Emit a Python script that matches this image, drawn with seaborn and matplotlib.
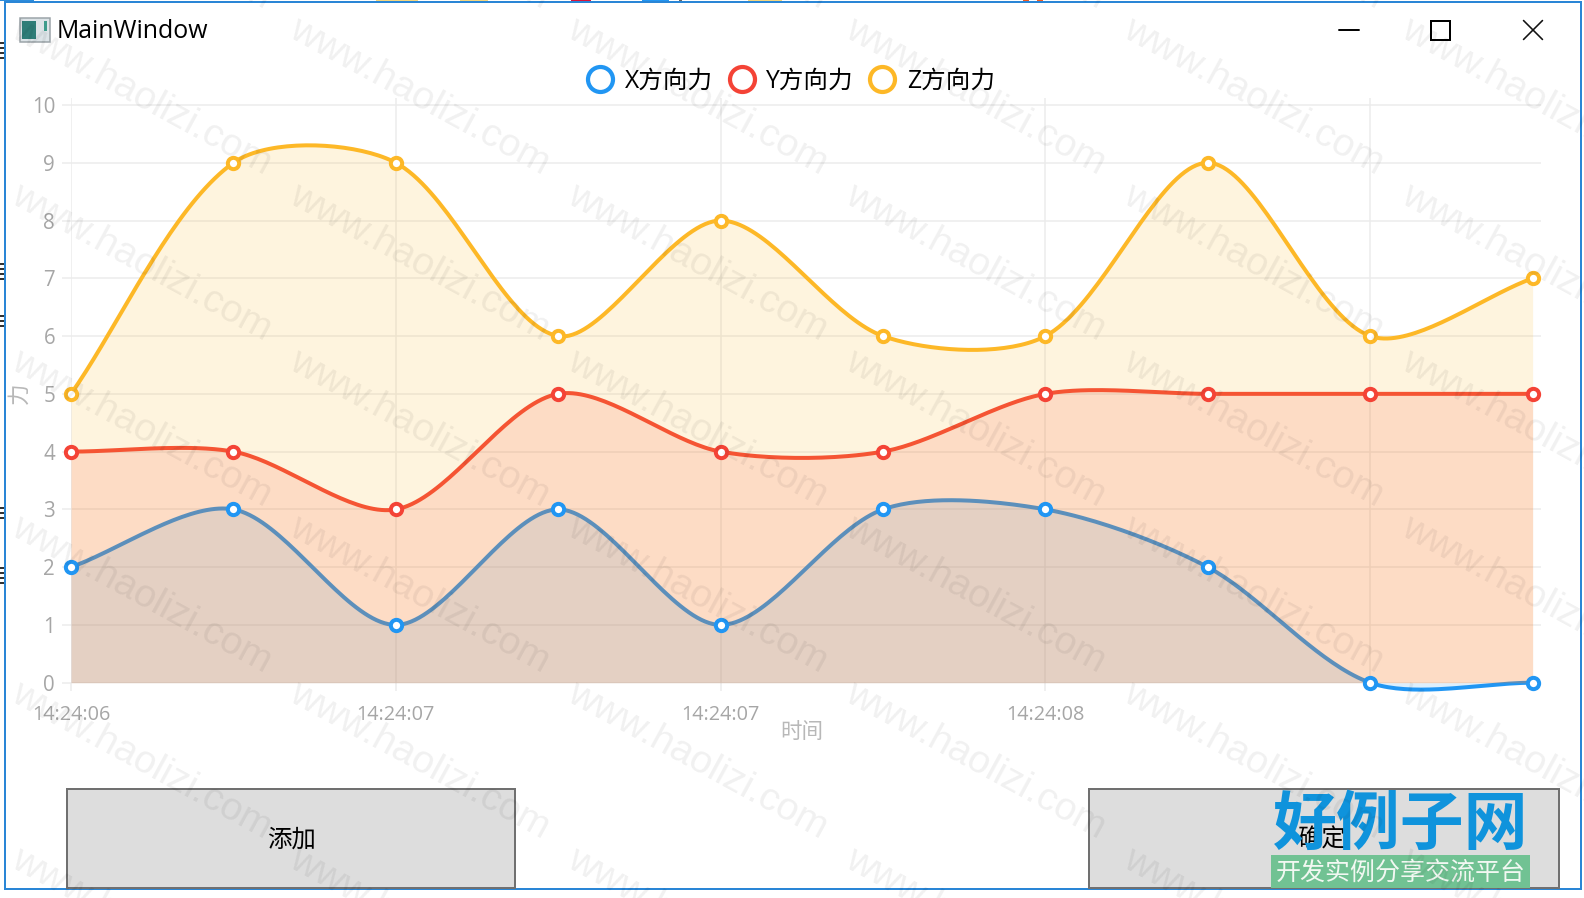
import numpy as np
import matplotlib
matplotlib.use("Agg")
import matplotlib.pyplot as plt
from matplotlib.lines import Line2D
from matplotlib.patches import Rectangle
import seaborn as sns

# Force readings per sample
sample_index = list(range(10))
force_x = [2, 3, 1, 3, 1, 3, 3, 2, 0, 0]
force_y = [4, 4, 3, 5, 4, 4, 5, 5, 5, 5]
force_z = [5, 9, 9, 6, 8, 6, 6, 9, 6, 7]
series_names = ["X方向力", "Y方向力", "Z方向力"]
series_colors = ["#2196F3", "#F44336", "#FDB827"]

x_tick_positions = [0, 2, 4, 6, 8]
x_tick_labels = ["14:24:06", "14:24:07", "14:24:07", "14:24:08", ""]
y_tick_positions = list(range(11))

WIDTH, HEIGHT = 1584, 898
PX = 72 / 100  # points per pixel at dpi 100
FONT = ["Open Sans", "Noto Sans CJK SC", "DejaVu Sans"]

sns.set_theme(style="white")
plt.rcParams["font.family"] = FONT

fig = plt.figure(figsize=(WIDTH / 100, HEIGHT / 100), dpi=100, facecolor="white")

# Full-window layer in pixel coordinates for the window frame and buttons
chrome = fig.add_axes([0, 0, 1, 1], zorder=0)
chrome.set_xlim(0, WIDTH)
chrome.set_ylim(HEIGHT, 0)
chrome.axis("off")


def box(ax, x0, y0, x1, y1, **kw):
    kw.setdefault("linewidth", 0)
    ax.add_patch(Rectangle((x0, y0), x1 - x0, y1 - y0, **kw))


# Slivers of the desktop visible around the window
for x0, x1, c in [(0, 34, "#2B8CDC"), (376, 418, "#F5D67E"), (460, 488, "#F5D67E"),
                  (571, 591, "#D9133A"), (642, 669, "#2196F3"), (679, 682, "#666666"),
                  (748, 782, "#F5D67E"), (1023, 1029, "#F05A22"), (1037, 1043, "#F05A22")]:
    box(chrome, x0, 0, x1, 1.2, facecolor=c)
for y0, y1 in [(42, 60), (263, 282), (315, 327), (507, 520), (567, 587)]:
    for y in np.arange(y0, y1, 5):
        box(chrome, 0, y, 3.6, y + 2, facecolor="#333333")

# Window border
box(chrome, 5, 2, 1581, 889, facecolor="white", edgecolor="#2A86D6", linewidth=2 * PX)

# Title bar
box(chrome, 19.5, 17.5, 50, 42, facecolor="#DDE4E8", edgecolor="#9AA3A8", linewidth=1.5 * PX)
box(chrome, 22, 21, 36, 39, facecolor="#2F7D78")
box(chrome, 44, 21, 47, 31, facecolor="#3E9C8C")
chrome.text(56.5, 32, "MainWindow", fontsize=17.9, color="black", va="center", ha="left")
chrome.plot([1339, 1359], [30, 30], color="black", lw=1.5 * PX * 1.3)
box(chrome, 1431, 20.5, 1450, 39.5, facecolor="none", edgecolor="black", linewidth=2 * PX)
chrome.plot([1523.5, 1542.5], [20.5, 39.5], color="#111111", lw=1.6 * PX)
chrome.plot([1523.5, 1542.5], [39.5, 20.5], color="#111111", lw=1.6 * PX)

# Buttons
box(chrome, 67, 789, 515, 887.5, facecolor="#DDDDDD", edgecolor="#707070", linewidth=2 * PX)
box(chrome, 1089, 789, 1559, 887.5, facecolor="#DDDDDD", edgecolor="#707070", linewidth=2 * PX)
chrome.text(291, 841, "添加", fontsize=17.6, color="black", ha="center", va="center")
chrome.text(1322, 841, "确定", fontsize=17.6, color="black", ha="center", va="center")

# Force chart
ax = fig.add_axes([71 / WIDTH, 1 - 682.7 / HEIGHT, 1470 / WIDTH, 584.7 / HEIGHT], zorder=1)
ax.patch.set_alpha(0)
ax.set_xlim(0, 1470 / 162.4)
ax.set_ylim(0, 584.7 / 57.77)


def smooth_curve(xs, ys, scale_x, scale_y, smoothness=0.6, samples=40):
    """Cubic Bezier spline through the points, with tangents set in screen space."""
    px = np.asarray(xs, float) * scale_x
    py = np.asarray(ys, float) * scale_y
    out_x, out_y = [], []
    n = len(px)
    for i in range(n - 1):
        a = max(i - 1, 0)
        d = min(i + 2, n - 1)
        p0, p1, p2, p3 = [np.array([px[k], py[k]]) for k in (a, i, i + 1, d)]
        c1, c2, c3 = (p0 + p1) / 2, (p1 + p2) / 2, (p2 + p3) / 2
        l1, l2, l3 = [np.hypot(*v) for v in (p1 - p0, p2 - p1, p3 - p2)]
        k1 = l1 / (l1 + l2)
        k2 = l2 / (l2 + l3)
        m1 = c1 + (c2 - c1) * k1
        m2 = c2 + (c3 - c2) * k2
        b1 = m1 + (c2 - m1) * smoothness + p1 - m1
        b2 = m2 + (c2 - m2) * smoothness + p2 - m2
        t = np.linspace(0, 1, samples)[:, None]
        seg = (1 - t) ** 3 * p1 + 3 * (1 - t) ** 2 * t * b1 + 3 * (1 - t) * t ** 2 * b2 + t ** 3 * p2
        out_x.extend(seg[:, 0] / scale_x)
        out_y.extend(seg[:, 1] / scale_y)
    return np.array(out_x), np.array(out_y)


origin = ax.transData.transform((0, 0))
unit = ax.transData.transform((1, 1)) - origin

all_series = [force_x, force_y, force_z]
for order, (values, color) in enumerate(zip(all_series, series_colors)):
    cx, cy = smooth_curve(sample_index, values, unit[0], unit[1])
    ax.fill_between(cx, cy, 0, color=color, alpha=0.15, linewidth=0, zorder=2 + order, clip_on=False)
    sns.lineplot(x=cx, y=cy, sort=False, estimator=None, errorbar=None, color=color,
                 linewidth=4 * PX, ax=ax, legend=False, zorder=2 + order, clip_on=False)
for values, color in zip(all_series, series_colors):
    sns.scatterplot(x=sample_index, y=values, ax=ax, s=66, marker="o", facecolor="white",
                    edgecolor=color, linewidth=4 * PX, legend=False, zorder=10, clip_on=False)

grid_color = "#ECECEC"
ax.set_xticks(x_tick_positions, x_tick_labels)
ax.set_yticks(y_tick_positions)
ax.grid(True, color=grid_color, linewidth=1.1, zorder=0)
ax.set_axisbelow(True)
for spine in ax.spines.values():
    spine.set_visible(False)
ax.tick_params(axis="x", length=8 * PX, width=1.1, color=grid_color, labelsize=14.3,
               labelcolor="#A6A6A6", pad=10.5, bottom=True)
ax.tick_params(axis="y", length=9 * PX, width=1.1, color=grid_color, labelsize=14.8,
               labelcolor="#A6A6A6", pad=5, left=True)

ax.set_xlabel("时间", fontsize=15.5, color="#B8B8B8")
ax.set_ylabel("力", fontsize=15.5, color="#B8B8B8")
ax.xaxis.label.set_va("center")
ax.yaxis.label.set_va("center")
ax.xaxis.set_label_coords((802 - 71) / 1470, -(733 - 682.7) / 584.7)
ax.yaxis.set_label_coords((20 - 71) / 1470, (682.7 - 393) / 584.7)

handles = [Line2D([], [], linestyle="none", marker="o", markersize=25 * PX,
                  markerfacecolor="none", markeredgecolor=c, markeredgewidth=4.2 * PX)
           for c in series_colors]
fig.legend(handles, series_names, loc="center", ncol=3, frameon=False,
           bbox_to_anchor=(791.5 / WIDTH, 1 - 81 / HEIGHT), fontsize=17.7,
           handlelength=1.0, handletextpad=0.5, columnspacing=0.66, labelcolor="black")

# Top layer: site logo and the repeating watermark
top = fig.add_axes([0, 0, 1, 1], zorder=20)
top.set_xlim(0, WIDTH)
top.set_ylim(HEIGHT, 0)
top.axis("off")
top.patch.set_alpha(0)

box(top, 1271, 855, 1530, 888, facecolor="#71C293")
top.text(1400.5, 873, "开发实例分享交流平台", fontsize=18, color="#F2F8F2", ha="center", va="center",
         family=["Noto Sans CJK SC"])
top.text(1400.5, 825, "好例子网", fontsize=46, color="#0F93DC", ha="center", va="center",
         fontweight="black", family=["Noto Sans CJK SC"])

for col in range(-1, 6):
    for row in range(-1, 6):
        tip_x = 19 + 278 * col
        tip_y = 17 + 166 * row
        top.text(tip_x - 10, tip_y + 19, "www.haolizi.com", fontsize=28.3, color="black", alpha=0.06,
                 rotation=-28.6, rotation_mode="anchor", ha="left", va="baseline",
                 family=["Liberation Sans"], clip_on=True)

fig.savefig("out.png", dpi=100, facecolor="white")
